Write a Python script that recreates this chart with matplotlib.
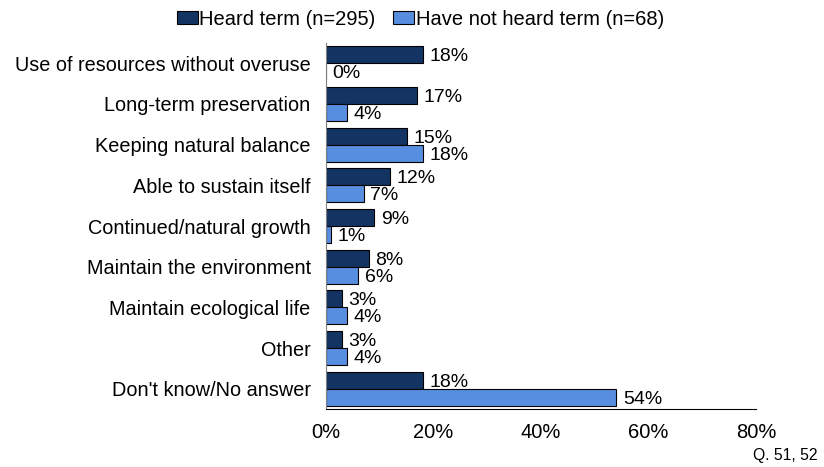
import matplotlib
matplotlib.use("Agg")
import matplotlib.pyplot as plt
import numpy as np
from matplotlib.ticker import FuncFormatter

plt.rcParams["font.family"] = ["Liberation Sans", "DejaVu Sans"]

categories = [
    "Use of resources without overuse",
    "Long-term preservation",
    "Keeping natural balance",
    "Able to sustain itself",
    "Continued/natural growth",
    "Maintain the environment",
    "Maintain ecological life",
    "Other",
    "Don't know/No answer",
]
heard = [18, 17, 15, 12, 9, 8, 3, 3, 18]
not_heard = [0, 4, 18, 7, 1, 6, 4, 4, 54]
series_labels = ["Heard term (n=295)", "Have not heard term (n=68)"]
x_ticks = [0, 20, 40, 60, 80]

DARK = "#133463"
LIGHT = "#588EE0"

fig = plt.figure(figsize=(8.24, 4.67), dpi=100)
ax = fig.add_axes([0.3956, 0.124, 0.522, 0.784])

y = np.arange(len(categories))
h = 0.42
b1 = ax.barh(y - h / 2, heard, h, color=DARK, edgecolor="black", linewidth=0.8, label=series_labels[0])
b2 = ax.barh(y + h / 2, not_heard, h, color=LIGHT, edgecolor="black", linewidth=0.8, label=series_labels[1])

for bars, vals in ((b1, heard), (b2, not_heard)):
    for bar, v in zip(bars, vals):
        ax.text(v + 1.2, bar.get_y() + bar.get_height() / 2 + 0.05, f"{v}%",
                ha="left", va="center", fontsize=14, color="black")

ax.set_ylim(len(categories) - 0.5, -0.5)
ax.set_xlim(0, 80)
ax.set_yticks(y)
ax.set_yticklabels(categories, fontsize=14.3)
ax.set_xticks(x_ticks)
ax.xaxis.set_major_formatter(FuncFormatter(lambda v, p: f"{v:.0f}%"))
ax.tick_params(axis="x", length=0, labelsize=14.5, pad=10)
ax.tick_params(axis="y", length=0, pad=11)

for s in ("top", "right"):
    ax.spines[s].set_visible(False)
ax.spines["left"].set_color("#808080")
ax.spines["bottom"].set_color("black")

fig.legend(handles=[b1, b2], loc="upper center", bbox_to_anchor=(0.51, 1.018), ncol=2,
           frameon=False, fontsize=14.5, handlelength=1.05, handleheight=0.6,
           handletextpad=0.08, columnspacing=0.85)

fig.text(0.992, 0.008, "Q. 51, 52", ha="right", va="bottom", fontsize=11.3)

fig.savefig("out.png", dpi=100)
